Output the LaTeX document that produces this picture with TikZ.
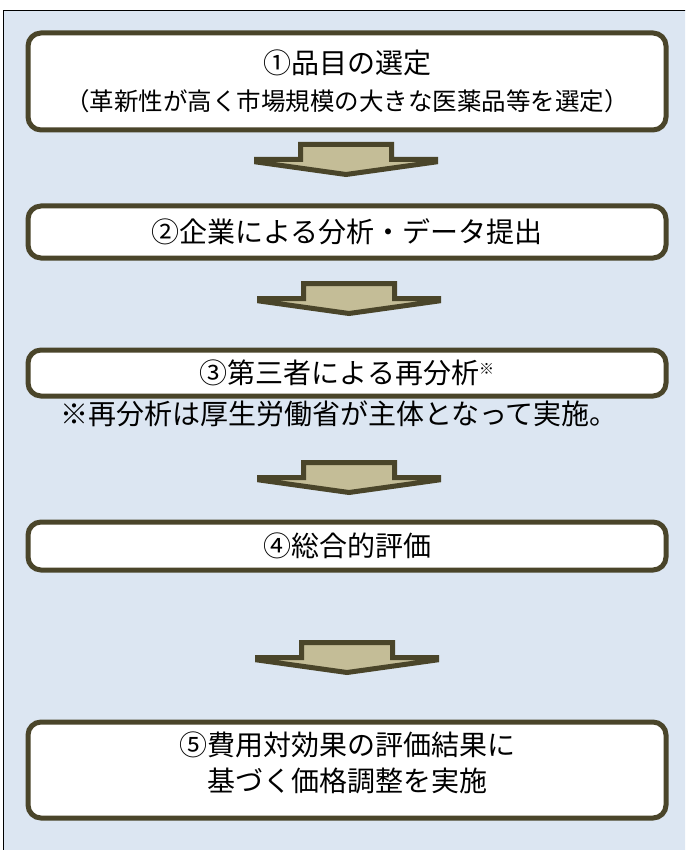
\documentclass[tikz,border=0pt]{standalone}
\usepackage{fontspec}
\setmainfont{Noto Sans CJK JP}
\usetikzlibrary{calc}
\definecolor{bgblue}{HTML}{DCE6F2}
\definecolor{olive}{HTML}{4A452A}
\definecolor{tan}{HTML}{C4BD97}
\tikzset{
  stepbox/.style={draw=olive, line width=5pt, fill=white, rounded corners=13pt,
    minimum width=638pt, inner sep=0pt, outer sep=0pt, align=center,
    font=\fontsize{28}{34}\selectfont, text=black},
  linetext/.style={inner sep=0pt, font=\fontsize{28}{34}\selectfont},
  subtext/.style={inner sep=0pt, font=\fontsize{24.5}{30}\selectfont},
  blockarrow/.style={draw=olive, fill=tan, line width=5pt, line join=miter},
  notetext/.style={anchor=west, inner sep=0pt, font=\fontsize{28}{34}\selectfont}
}
\begin{document}
\begin{tikzpicture}[x=1pt,y=-1pt]
\useasboundingbox (0,0) rectangle (685,850);
\clip (0,0) rectangle (685,850);
\fill[white] (0,0) rectangle (685,850);
\draw[black, line width=1.5pt, fill=bgblue] (3.5,10.5) rectangle (700,870);

\node[stepbox, minimum height=97pt] (b1) at (347,81.5) {};
\node[linetext] (b1t1) at ($(b1.center)+(0,-18.5)$) {①品目の選定};
\node[subtext] (b1t2) at ($(b1.center)+(0,19.5)$) {（革新性が高く市場規模の大きな医薬品等を選定）};
\node[stepbox, minimum height=52pt] (b2) at (347,232) {②企業による分析・データ提出};
\node[stepbox, minimum height=46pt] (b3) at (347,373) {③第三者による再分析\raisebox{9pt}{\fontsize{15}{15}\selectfont ※}};
\node[notetext] (note) at (60,414) {※再分析は厚生労働省が主体となって実施。};
\node[stepbox, minimum height=48pt] (b4) at (347,546) {④総合的評価};
\node[stepbox, minimum height=96pt] (b5) at (347,770) {};
\node[linetext] (b5t1) at ($(b5.center)+(0,-25)$) {⑤費用対効果の評価結果に};
\node[linetext] (b5t2) at ($(b5.center)+(0,11)$) {基づく価格調整を実施};

\coordinate (a1) at (346,142);
\coordinate (a2) at (349,281);
\coordinate (a3) at (349,460);
\coordinate (a4) at (347,640);
\foreach \a in {a1,a2,a3,a4}{
  \draw[blockarrow, shift={(\a)}] (-45.5,2.5) -- (45.5,2.5) -- (45.5,17.5) -- (89.5,17.5)
    -- (89.5,20) -- (0,32.5) -- (-89.5,20) -- (-89.5,17.5) -- (-45.5,17.5) -- cycle;
}
\end{tikzpicture}
\end{document}
